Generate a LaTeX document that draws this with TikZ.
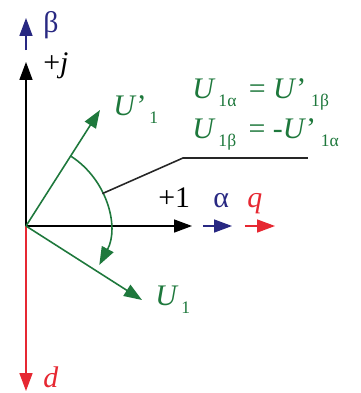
\documentclass[tikz,border=0pt]{standalone}
\usepackage{fontspec}
\setmainfont{Liberation Serif}
\usetikzlibrary{arrows.meta, positioning}
\definecolor{vecgreen}{RGB}{30,120,60}
\definecolor{axblue}{RGB}{40,40,130}
\definecolor{axred}{RGB}{230,40,50}
\newcommand{\lowsub}[1]{\raisebox{-5pt}{\fontsize{10}{10}\selectfont #1}}

\begin{document}
\begin{tikzpicture}[x=0.02cm, y=0.02cm,
    tip/.style={-{Triangle[length=0.36cm, width=0.26cm]}},
    axis/.style={tip, line width=0.9pt},
    vec/.style={axis, vecgreen},
    lbl/.style={font=\fontsize{17}{20}\selectfont, inner sep=0pt, anchor=base west}]
    \useasboundingbox (-26,-167) rectangle (334,226);
    \coordinate (O) at (0,0);
    \coordinate (jtip) at (0,164);
    \coordinate (bstart) at (0,176);
    \coordinate (btip) at (0,208);
    \coordinate (xtip) at (166,0);
    \coordinate (astart) at (177,0);
    \coordinate (atip) at (206,0);
    \coordinate (qstart) at (219,0);
    \coordinate (qtip) at (249,0);
    \coordinate (dtip) at (0,-165);
    \coordinate (Up) at (74,116);
    \coordinate (U) at (116,-74);
    \coordinate (arcS) at (57:83);
    \coordinate (lead) at (23:83);
    \coordinate (bend) at (157,68);
    \coordinate (lineE) at (282,68);
    % axes
    \draw[axis] (O) -- (jtip);
    \draw[axis] (O) -- (xtip);
    \draw[axis, axblue] (bstart) -- (btip);
    \draw[axis, axblue] (astart) -- (atip);
    \draw[axis, axred] (qstart) -- (qtip);
    \draw[axis, axred] (O) -- (dtip);
    % vectors
    \draw[vec] (O) -- (Up);
    \draw[vec] (O) -- (U);
    \draw[vec] (arcS) arc[start angle=57, end angle=-28, radius=83];
    \draw[black!85, line width=0.9pt] (lead) -- (bend) -- (lineE);
    % labels
    \node[lbl, axblue] (beta) at (17,194) {β};
    \node[lbl] (plusj) at (17,154) {+\textit{j}};
    \node[lbl] (plusone) at (132,19) {+1};
    \node[lbl, axblue] (alpha) at (187,19) {α};
    \node[lbl, axred] (qlbl) at (221,19) {\textit{q}};
    \node[lbl, axred] (dlbl) at (17,-161) {\textit{d}};
    \node[lbl, vecgreen] (Uplbl) at (87,111) {\textit{U}’\lowsub{\,1}};
    \node[lbl, vecgreen] (Ulbl) at (129,-79) {\textit{U}\lowsub{\,1}};
    \node[lbl, vecgreen] (eqa) at (166,128) {\textit{U}\lowsub{\,1α}\, = \textit{U}’\lowsub{\;1β}};
    \node[lbl, vecgreen] (eqb) at (166,88) {\textit{U}\lowsub{\,1β}\, = -\textit{U}’\lowsub{\;1α}};
\end{tikzpicture}
\end{document}
